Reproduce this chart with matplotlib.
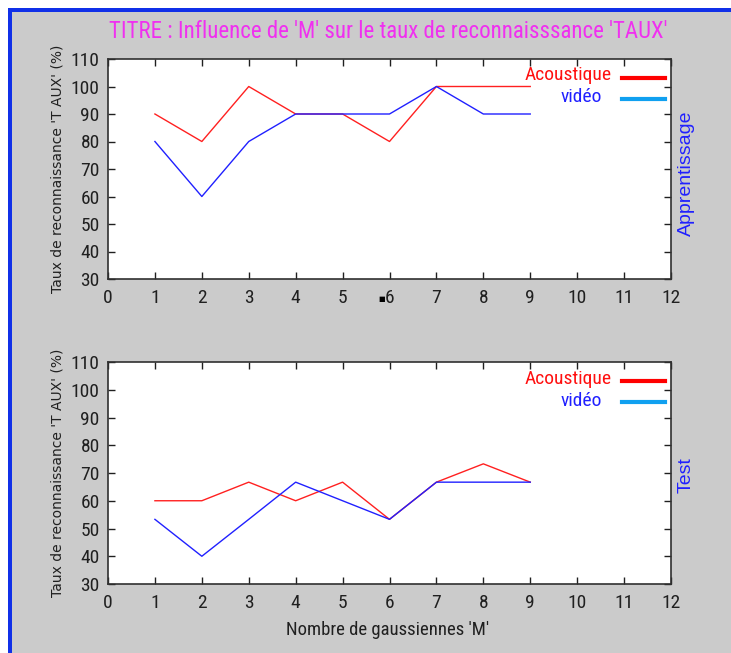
import matplotlib
matplotlib.use("Agg")
import matplotlib.pyplot as plt
from matplotlib.patches import Rectangle
from matplotlib.lines import Line2D

NARROW = ['Roboto Condensed', 'PT Sans Narrow', 'DejaVu Sans']

M = [1, 2, 3, 4, 5, 6, 7, 8, 9]
appr_acoustique = [90, 80, 100, 90, 90, 80, 100, 100, 100]
appr_video = [80, 60, 80, 90, 90, 90, 100, 90, 90]
test_acoustique = [60, 60, 66.7, 60, 66.7, 53.3, 66.7, 73.3, 66.7]
test_video = [53.3, 40, 53.3, 66.7, 60, 53.3, 66.7, 66.7, 66.7]
xticks = list(range(0, 13))
yticks = list(range(30, 111, 10))

title = "TITRE : Influence de 'M' sur le taux de reconnaisssance 'TAUX'"
ylabel = "Taux de reconnaissance 'T AUX' (%)"
xlabel = "Nombre de gaussiennes 'M'"
labels = ["Acoustique", "vidéo"]

W, H = 731, 653
fig = plt.figure(figsize=(W / 100, H / 100), dpi=100)
fig.patch.set_facecolor('#cbcbcb')

# window frame
fig.patches.append(Rectangle((0, 1 - 8 / H), 1, 8 / H, transform=fig.transFigure,
                             facecolor='white', edgecolor='none', zorder=-5))
fig.patches.append(Rectangle((0, 0), 8 / W, 1, transform=fig.transFigure,
                             facecolor='white', edgecolor='none', zorder=-5))
fig.patches.append(Rectangle((8 / W, 1 - 12 / H), 1, 4 / H, transform=fig.transFigure,
                             facecolor='#1030e8', edgecolor='none', zorder=-4))
fig.patches.append(Rectangle((8 / W, 0), 4 / W, 1 - 8 / H, transform=fig.transFigure,
                             facecolor='#1030e8', edgecolor='none', zorder=-4))

left = 108 / W
width = (671 - 108) / W
ax1 = fig.add_axes([left, 1 - 279 / H, width, (279 - 59) / H])
ax2 = fig.add_axes([left, 1 - 584 / H, width, (584 - 362) / H])

for ax, ac, vi, side, sy in [(ax1, appr_acoustique, appr_video, "Apprentissage", 0.48),
                             (ax2, test_acoustique, test_video, "Test", 0.49)]:
    ax.plot(M, ac, color='#ff2020', lw=1.0)
    ax.plot(M, vi, color='#2020ff', lw=1.0)
    ax.set_xlim(0, 12)
    ax.set_ylim(30, 110)
    ax.set_xticks(xticks)
    ax.set_yticks(yticks)
    ax.tick_params(direction='in', top=True, right=True, length=5, width=1,
                   labelsize=14, pad=6, colors='#202020')
    ax.tick_params(axis='x', pad=7)
    for lab in ax.get_xticklabels() + ax.get_yticklabels():
        lab.set_fontfamily(NARROW)
    for s in ax.spines.values():
        s.set_color('#303030')
        s.set_linewidth(1.2)
    ax.set_ylabel(ylabel, fontsize=10, family='DejaVu Sans', color='#202020')
    ax.yaxis.set_label_coords(-0.078, 0.5)
    ax.text(1.027, sy, side, transform=ax.transAxes, rotation=90, color='#2020ff',
            fontsize=14, family='Liberation Sans', ha='center', va='center')
    # legend (text then line)
    ax.text(0.895, 0.925, labels[0], transform=ax.transAxes, color='#ff1010',
            fontsize=14, family=NARROW, ha='right', va='center')
    ax.add_line(Line2D([0.913, 0.99], [0.915, 0.915], transform=ax.transAxes,
                       color='#ff0000', lw=3))
    ax.text(0.878, 0.825, labels[1], transform=ax.transAxes, color='#2020ff',
            fontsize=14, family=NARROW, ha='right', va='center')
    ax.add_line(Line2D([0.913, 0.99], [0.82, 0.82], transform=ax.transAxes,
                       color='#10a0f0', lw=3))

fig.text(388 / W, 1 - 32 / H, title, color='#f030f0', fontsize=16.5,
         family=NARROW, ha='center', va='center')
fig.text(388 / W, 1 - 630 / H, xlabel, color='#202020', fontsize=13.5,
         family=NARROW, ha='center', va='center')
# small black mark seen next to the "6" tick label of the upper plot
fig.text(382 / W, 1 - 299 / H, "■", color='black', fontsize=5,
         family='DejaVu Sans', ha='center', va='center')

fig.savefig('out.png', dpi=100, facecolor=fig.get_facecolor())
